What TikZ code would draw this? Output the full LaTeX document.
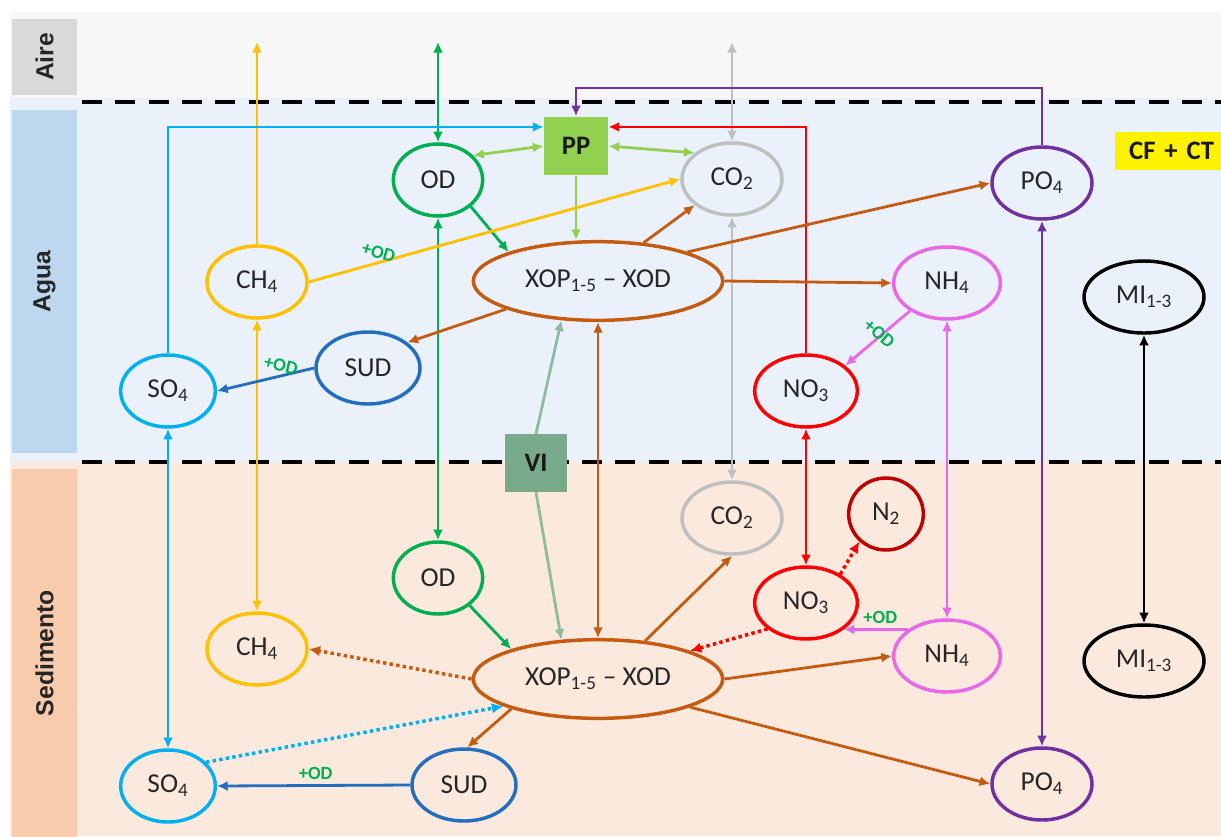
\documentclass[tikz,border=0pt]{standalone}
\usepackage{fontspec}
\setmainfont{Carlito}
\newfontfamily\regionfont{Liberation Sans}
\usetikzlibrary{shapes.geometric,arrows.meta,calc}

\definecolor{cBrown}{RGB}{197,90,17}
\definecolor{cGold}{RGB}{255,192,0}
\definecolor{cGreen}{RGB}{0,176,80}
\definecolor{cLime}{RGB}{146,208,80}
\definecolor{cGray}{RGB}{191,191,191}
\definecolor{cSky}{RGB}{0,176,240}
\definecolor{cBlue}{RGB}{35,110,190}
\definecolor{cRed}{RGB}{255,0,0}
\definecolor{cDarkRed}{RGB}{192,0,0}
\definecolor{cPurple}{RGB}{112,48,160}
\definecolor{cPink}{RGB}{232,104,232}
\definecolor{cSage}{RGB}{122,170,140}
\definecolor{cSageLine}{RGB}{143,187,158}
\definecolor{cAirBg}{RGB}{247,247,247}
\definecolor{cWaterBg}{RGB}{234,241,250}
\definecolor{cSedBg}{RGB}{252,233,222}
\definecolor{cAireBox}{RGB}{217,217,217}
\definecolor{cAguaBox}{RGB}{189,215,238}
\definecolor{cSedBox}{RGB}{248,203,173}
\definecolor{cText}{RGB}{38,38,38}

\tikzset{every picture/.style={line width=0.75pt}}
\tikzset{
  pool/.style={ellipse, draw, line width=2.6pt, inner sep=0pt, minimum width=75pt, minimum height=54pt, text=cText, font=\fontsize{20.5}{24}\selectfont},
  boxnode/.style={rectangle, inner sep=0pt, text=black!90, font=\bfseries\fontsize{20}{24}\selectfont},
  flow/.style={line width=2.1pt, -{Latex[length=8pt,width=7.5pt]}},
  twoway/.style={line width=2.1pt, {Latex[length=8pt,width=7.5pt]}-{Latex[length=8pt,width=7.5pt]}},
  dotflow/.style={line width=2.6pt, dash pattern=on 2.6pt off 2.4pt, -{Latex[length=8.5pt,width=8pt]}},
  oxlabel/.style={text=cGreen, inner sep=1pt, font=\bfseries\fontsize{14}{15}\selectfont},
  sepline/.style={line width=3pt, dash pattern=on 15pt off 10pt},
  region/.style={rotate=90, minimum height=48.75pt, inner sep=0pt, text=cText, font=\regionfont\bfseries\fontsize{18.5}{20}\selectfont},
}

\begin{document}
\begin{tikzpicture}[x=0.75pt,y=0.75pt,yscale=-1,xscale=1]
\useasboundingbox (0,0) rectangle (1221,836);

%Shape: Rectangle (layers)
\fill[cAirBg] (10,12) rectangle (1221,98);
\fill[cWaterBg] (10,98) rectangle (1221,462);
\fill[cSedBg] (10,462) rectangle (1221,836);

% Text Node (layer names)
\node[region, fill=cAireBox, minimum width=57pt] (aire) at (44.5,57) {Aire};
\node[region, fill=cAguaBox, minimum width=257pt] (agua) at (44.5,281.5) {Agua};
\node[region, fill=cSedBox, minimum width=276pt] (sedimento) at (44.5,653) {Sedimento};

%Straight Lines (interfaces)
\draw[sepline] (82,102) -- (1221,102);
\draw[sepline] (82,462) -- (1221,462);

\coordinate (ch4air) at (257,42);
\coordinate (odair) at (438,42);
\coordinate (co2air) at (732,42);
\coordinate (purptop) at (800,88);

%Shape: Ellipse (water column)
\node[boxnode, fill=cLime, minimum width=48pt, minimum height=44pt] (pp) at (576,146) {PP};
\node[pool, draw=cGreen, minimum width=67pt] (odw) at (438,180) {OD};
\node[pool, draw=cGray] (co2w) at (732,179) {CO\textsubscript{2}};
\node[pool, draw=cPurple] (po4w) at (1042,183) {PO\textsubscript{4}};
\node[boxnode, fill=yellow, anchor=west, text width=70pt, inner xsep=11pt, minimum height=28pt] (cfct) at (1114,151) {CF + CT};
\node[pool, draw=cGold] (ch4w) at (257,282) {CH\textsubscript{4}};
\node[pool, draw=cBrown, minimum width=187pt, minimum height=59pt] (xopw) at (598,281) {XOP\textsubscript{1-5} -- XOD};
\node[pool, draw=cPink, minimum width=80pt] (nh4w) at (947,283) {NH\textsubscript{4}};
\node[pool, draw=black, minimum width=90pt] (miw) at (1144,297) {MI\textsubscript{1-3}};
\node[pool, draw=cBlue, minimum width=78pt] (sudw) at (368,368) {SUD};
\node[pool, draw=cSky, minimum width=71pt] (so4w) at (168,391) {SO\textsubscript{4}};
\node[pool, draw=cRed, minimum width=77pt] (no3w) at (806,391) {NO\textsubscript{3}};
\node[boxnode, fill=cSage, minimum width=46pt, minimum height=43pt] (vi) at (536,463) {VI};

%Shape: Ellipse (sediment)
\node[pool, draw=cGray] (co2s) at (732,518) {CO\textsubscript{2}};
\node[pool, draw=cDarkRed, minimum width=56pt] (n2) at (886,514) {N\textsubscript{2}};
\node[pool, draw=cGreen, minimum width=67pt] (ods) at (438,578) {OD};
\node[pool, draw=cRed, minimum width=77pt] (no3s) at (806,603) {NO\textsubscript{3}};
\node[pool, draw=cGold] (ch4s) at (257,649) {CH\textsubscript{4}};
\node[pool, draw=cPink, minimum width=80pt] (nh4s) at (947,656) {NH\textsubscript{4}};
\node[pool, draw=black, minimum width=90pt] (mis) at (1144,661) {MI\textsubscript{1-3}};
\node[pool, draw=cBrown, minimum width=187pt, minimum height=59pt] (xops) at (598,679) {XOP\textsubscript{1-5} -- XOD};
\node[pool, draw=cSky, minimum width=71pt] (so4s) at (168,786) {SO\textsubscript{4}};
\node[pool, draw=cBlue, minimum width=78pt] (suds) at (464,785) {SUD};
\node[pool, draw=cPurple] (po4s) at (1042,784) {PO\textsubscript{4}};

%Straight Lines (exchanges)
\draw[flow, cGold] (ch4w.north) -- (ch4air);
\draw[twoway, cGold] (ch4w.south) -- (ch4s.north);
\draw[twoway, cGreen] (odair) -- (odw.north);
\draw[twoway, cGreen] (odw.south) -- (ods.north);
\draw[twoway, cGray] (co2air) -- (co2w.north);
\draw[twoway, cGray] (co2w.south) -- (co2s.north);
\draw[twoway, cPurple] (po4w.south) -- (po4s.north);
\draw[twoway, black] (miw.south) -- (mis.north);
\draw[twoway, cPink] (nh4w.south) -- (nh4s.north);
\draw[twoway, cRed] (no3w.south) -- (no3s.north);
\draw[twoway, cSky] (so4w.south) -- (so4s.north);
\draw[twoway, cBrown] (xopw.south) -- (xops.north);

%Straight Lines (water column)
\draw[twoway, cLime] (pp.west) -- (odw.35);
\draw[twoway, cLime] (pp.east) -- (co2w.145);
\draw[flow, cLime] (pp.south) -- (pp.south |- xopw.north);
\draw[flow, cSky] (so4w.north) |- ($(pp.north west)!0.18!(pp.south west)$);
\draw[flow, cRed] (no3w.north) |- ($(pp.north east)!0.18!(pp.south east)$);
\draw[flow, cPurple] (po4w.north) |- (purptop) -| (pp.north);
\draw[flow, cSageLine] (vi.north) -- (xopw.227);
\draw[flow, cSageLine] (vi.south) -- (xops.133);
\draw[flow, cGreen] (odw.-39) -- (xopw.162);
\draw[flow, cGold] (ch4w.east) -- node[oxlabel, pos=0.18, above=2pt, sloped] (oxa) {+OD} (co2w.west);
\draw[flow, cBrown] (xopw.40) -- (co2w.215);
\draw[flow, cBrown] (xopw.18) -- (po4w.west);
\draw[flow, cBrown] (xopw.east) -- (nh4w.west);
\draw[flow, cBrown] (xopw.197) -- (sudw.33);
\draw[flow, cBlue] (sudw.west) -- node[oxlabel, pos=0.37, above=2pt, sloped] (oxb) {+OD} (so4w.east);
\draw[flow, cPink] (nh4w.217) -- node[oxlabel, pos=0.6, above=3pt, sloped] (oxc) {+OD} (no3w.33);

%Straight Lines (sediment)
\draw[flow, cGreen] (ods.-41) -- (xops.161);
\draw[dotflow, cBrown] (xops.west) -- (ch4s.east);
\draw[dotflow, cSky] (so4s.32) -- (xops.196);
\draw[flow, cBlue] (suds.west) -- node[oxlabel, pos=0.49, above=2pt] (oxd) {+OD} (so4s.east);
\draw[flow, cBrown] (xops.199) -- (suds.85);
\draw[flow, cBrown] (xops.39) -- (co2s.south);
\draw[flow, cBrown] (xops.east) -- (nh4s.west);
\draw[flow, cBrown] (xops.-17) -- (po4s.west);
\draw[dotflow, cRed] (no3s.214) -- (xops.17);
\draw[dotflow, cRed] (no3s.40) -- (n2.226);
\draw[flow, cPink] (nh4s.146) -- node[oxlabel, pos=0.43, above=2pt] (oxe) {+OD} (no3s.-35);

\end{tikzpicture}
\end{document}
